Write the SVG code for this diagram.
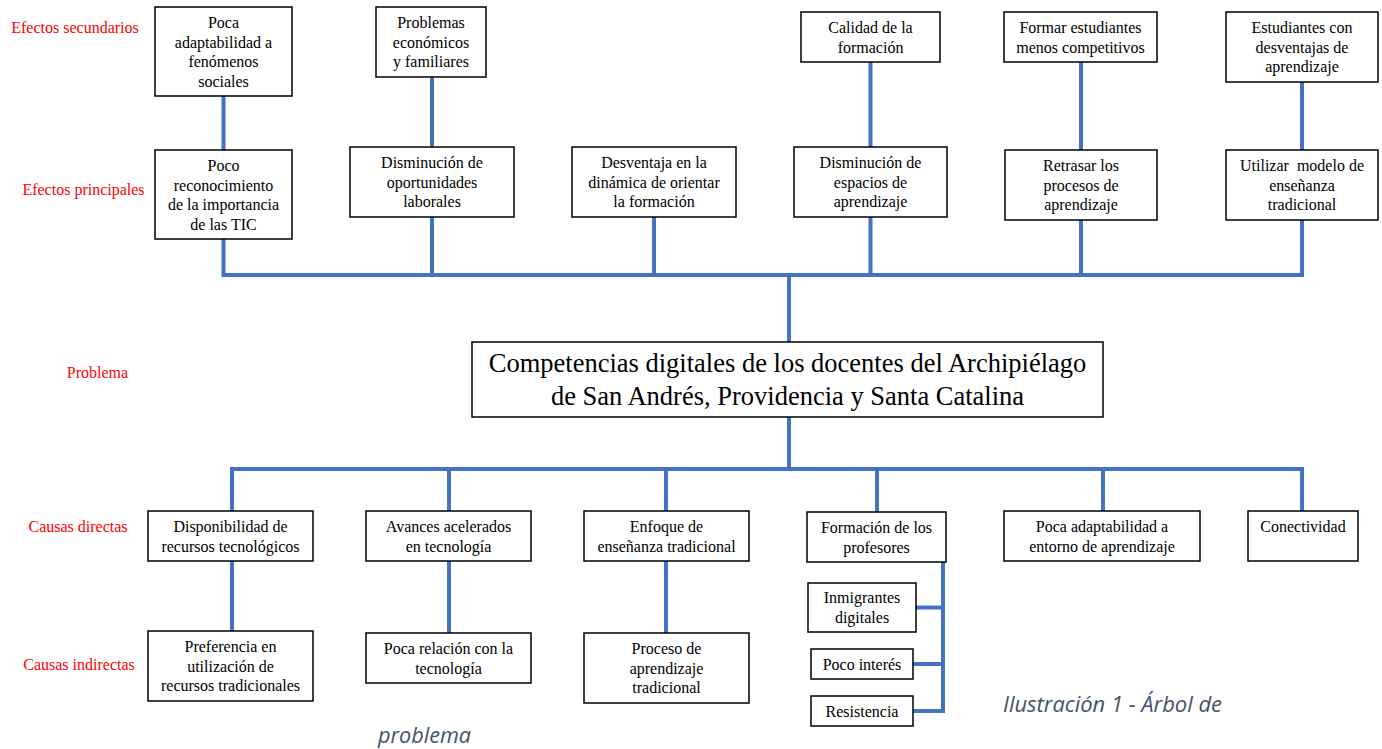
<svg xmlns="http://www.w3.org/2000/svg" width="1382" height="749" viewBox="0 0 1382 749">
<style>
.box{fill:#fff;stroke:#000;stroke-width:1.5}
.t{font-family:"Liberation Serif","Times New Roman",serif;font-size:16px;fill:#000;text-anchor:middle}
.big{font-family:"Liberation Serif","Times New Roman",serif;font-size:26.5px;fill:#000;text-anchor:middle}
.lab{font-family:"Liberation Serif","Times New Roman",serif;font-size:16px;fill:#ff0000;text-anchor:middle}
.cap{font-family:"Open Sans","Noto Sans",sans-serif;font-style:italic;font-size:21px;fill:#44546a}
.c{fill:none;stroke:#4472c4;stroke-width:4}
</style>
<rect width="1382" height="749" fill="#fff"/>

<g id="labels">
<text class="lab" x="75" y="33">Efectos secundarios</text>
<text class="lab" x="83.5" y="195">Efectos principales</text>
<text class="lab" x="97.5" y="378">Problema</text>
<text class="lab" x="78" y="532">Causas directas</text>
<text class="lab" x="79" y="670">Causas indirectas</text>
</g>

<g id="connectors">
<path class="c" d="M223.5 96V150M223.5 239V275M432 77V147M432 217V275M654 217V275M870.5 62V147M870.5 217V275M1081 62V150M1081 220V275M1302 82V150M1302 220V275M221.5 275H1304M789 275V342"/>
<path class="c" d="M789 417V469M230 469H1304M232 469V511M449 469V511M666 469V511M877 469V512M1103 469V511M1302 469V511"/>
<path class="c" d="M232 561V631M449 561V633M666 561V633"/>
<path class="c" d="M943 562V713M916 607.5H943M913 664H943M913 711H945"/>
</g>

<g id="n_se1"><rect class="box" x="155" y="7" width="137" height="89"/>
<text class="t" x="223.5" y="28">Poca</text><text class="t" x="223.5" y="47.5">adaptabilidad a</text><text class="t" x="223.5" y="67">fenómenos</text><text class="t" x="223.5" y="86.5">sociales</text></g>
<g id="n_se2"><rect class="box" x="376" y="7" width="110" height="70"/>
<text class="t" x="431" y="28">Problemas</text><text class="t" x="431" y="48">económicos</text><text class="t" x="431" y="67">y familiares</text></g>
<g id="n_se3"><rect class="box" x="801" y="12" width="139" height="50"/>
<text class="t" x="870.5" y="33">Calidad de la</text><text class="t" x="870.5" y="53">formación</text></g>
<g id="n_se4"><rect class="box" x="1004" y="12" width="153" height="50"/>
<text class="t" x="1080.5" y="33">Formar estudiantes</text><text class="t" x="1080.5" y="53">menos competitivos</text></g>
<g id="n_se5"><rect class="box" x="1226" y="12" width="152" height="70"/>
<text class="t" x="1302" y="33">Estudiantes con</text><text class="t" x="1302" y="53">desventajas de</text><text class="t" x="1302" y="72">aprendizaje</text></g>

<g id="n_ep1"><rect class="box" x="155" y="150" width="137" height="89"/>
<text class="t" x="223.5" y="171">Poco</text><text class="t" x="223.5" y="191">reconocimiento</text><text class="t" x="223.5" y="210">de la importancia</text><text class="t" x="223.5" y="229.5">de las TIC</text></g>
<g id="n_ep2"><rect class="box" x="350" y="147" width="164" height="70"/>
<text class="t" x="432" y="168">Disminución de</text><text class="t" x="432" y="188">oportunidades</text><text class="t" x="432" y="207">laborales</text></g>
<g id="n_ep3"><rect class="box" x="572" y="147" width="164" height="70"/>
<text class="t" x="654" y="168">Desventaja en la</text><text class="t" x="654" y="188">dinámica de orientar</text><text class="t" x="654" y="207">la formación</text></g>
<g id="n_ep4"><rect class="box" x="794" y="147" width="153" height="70"/>
<text class="t" x="870.5" y="168">Disminución de</text><text class="t" x="870.5" y="188">espacios de</text><text class="t" x="870.5" y="207">aprendizaje</text></g>
<g id="n_ep5"><rect class="box" x="1005" y="150" width="152" height="70"/>
<text class="t" x="1081" y="171">Retrasar los</text><text class="t" x="1081" y="191">procesos de</text><text class="t" x="1081" y="210">aprendizaje</text></g>
<g id="n_ep6"><rect class="box" x="1226" y="150" width="152" height="70"/>
<text class="t" x="1302" y="171" xml:space="preserve">Utilizar  modelo de</text><text class="t" x="1302" y="191">enseñanza</text><text class="t" x="1302" y="210">tradicional</text></g>

<g id="n_problema"><rect class="box" x="472" y="342" width="631" height="75"/>
<text class="big" x="787.5" y="372">Competencias digitales de los docentes del Archipiélago</text>
<text class="big" x="787.5" y="405">de San Andrés, Providencia y Santa Catalina</text></g>

<g id="n_cd1"><rect class="box" x="148" y="511" width="165" height="50"/>
<text class="t" x="230.5" y="532">Disponibilidad de</text><text class="t" x="230.5" y="551.5">recursos tecnológicos</text></g>
<g id="n_cd2"><rect class="box" x="366" y="511" width="165" height="50"/>
<text class="t" x="448.5" y="532">Avances acelerados</text><text class="t" x="448.5" y="551.5">en tecnología</text></g>
<g id="n_cd3"><rect class="box" x="584" y="511" width="165" height="50"/>
<text class="t" x="666.5" y="532">Enfoque de</text><text class="t" x="666.5" y="551.5">enseñanza tradicional</text></g>
<g id="n_cd4"><rect class="box" x="807" y="512" width="139" height="50"/>
<text class="t" x="876.5" y="533">Formación de los</text><text class="t" x="876.5" y="553">profesores</text></g>
<g id="n_cd5"><rect class="box" x="1004" y="511" width="196" height="50"/>
<text class="t" x="1102" y="532">Poca adaptabilidad a</text><text class="t" x="1102" y="551.5">entorno de aprendizaje</text></g>
<g id="n_cd6"><rect class="box" x="1248" y="511" width="110" height="50"/>
<text class="t" x="1303" y="532">Conectividad</text></g>

<g id="n_ci1"><rect class="box" x="148" y="631" width="165" height="70"/>
<text class="t" x="230.5" y="652">Preferencia en</text><text class="t" x="230.5" y="671.5">utilización de</text><text class="t" x="230.5" y="691">recursos tradicionales</text></g>
<g id="n_ci2"><rect class="box" x="366" y="633" width="165" height="50"/>
<text class="t" x="448.5" y="654">Poca relación con la</text><text class="t" x="448.5" y="674">tecnología</text></g>
<g id="n_ci3"><rect class="box" x="584" y="633" width="165" height="70"/>
<text class="t" x="666.5" y="654">Proceso de</text><text class="t" x="666.5" y="674">aprendizaje</text><text class="t" x="666.5" y="693">tradicional</text></g>

<g id="n_sub1"><rect class="box" x="808" y="583" width="108" height="49"/>
<text class="t" x="862" y="603">Inmigrantes</text><text class="t" x="862" y="623">digitales</text></g>
<g id="n_sub2"><rect class="box" x="811" y="649" width="102" height="30"/>
<text class="t" x="862" y="669.5">Poco interés</text></g>
<g id="n_sub3"><rect class="box" x="811" y="696" width="102" height="30"/>
<text class="t" x="862" y="716.5">Resistencia</text></g>

<g id="caption">
<text class="cap" x="1003" y="712" textLength="219" lengthAdjust="spacingAndGlyphs">Ilustración 1 - Árbol de</text>
<text class="cap" x="378" y="743" textLength="93" lengthAdjust="spacingAndGlyphs">problema</text>
</g>
</svg>
